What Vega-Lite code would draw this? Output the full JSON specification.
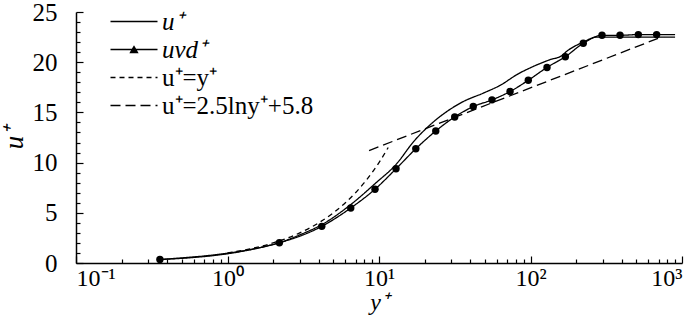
{
  "$schema": "https://vega.github.io/schema/vega-lite/v6.json",
  "width": 606,
  "height": 251,
  "autosize": {"type": "none"},
  "padding": {"left": 76, "top": 12, "right": 18, "bottom": 55},
  "background": "white",
  "config": {
    "view": {"stroke": null},
    "font": "Liberation Serif",
    "axis": {
      "domainColor": "black", "tickColor": "black", "labelColor": "black", "titleColor": "black",
      "grid": false, "domainWidth": 1.5, "tickWidth": 1.2, "titleFontWeight": "normal",
      "labelFont": "Liberation Serif", "titleFont": "Liberation Serif"
    }
  },
  "datasets": {
    "lines": [
      {"series": "u", "x": 0.358, "y": 0.35},
      {"series": "u", "x": 0.565, "y": 0.52},
      {"series": "u", "x": 1.0, "y": 0.92},
      {"series": "u", "x": 1.5, "y": 1.4},
      {"series": "u", "x": 2.2, "y": 2.02},
      {"series": "u", "x": 3.0, "y": 2.8},
      {"series": "u", "x": 4.19, "y": 3.82},
      {"series": "u", "x": 6.51, "y": 5.82},
      {"series": "u", "x": 9.41, "y": 7.9},
      {"series": "u", "x": 13.1, "y": 9.9},
      {"series": "u", "x": 16.9, "y": 12.08},
      {"series": "u", "x": 21.7, "y": 13.75},
      {"series": "u", "x": 28, "y": 15.08},
      {"series": "u", "x": 36, "y": 16.08},
      {"series": "u", "x": 48.8, "y": 16.92},
      {"series": "u", "x": 64, "y": 17.75},
      {"series": "u", "x": 81, "y": 18.75},
      {"series": "u", "x": 104.4, "y": 19.58},
      {"series": "u", "x": 134.5, "y": 20.25},
      {"series": "u", "x": 160.7, "y": 20.65},
      {"series": "u", "x": 173.4, "y": 21.08},
      {"series": "u", "x": 223, "y": 22.0},
      {"series": "u", "x": 273, "y": 22.5},
      {"series": "u", "x": 900, "y": 22.5},
      {"series": "uvd", "x": 0.358, "y": 0.35},
      {"series": "uvd", "x": 2.2, "y": 2.02},
      {"series": "uvd", "x": 4.19, "y": 3.65},
      {"series": "uvd", "x": 6.51, "y": 5.48},
      {"series": "uvd", "x": 9.41, "y": 7.35},
      {"series": "uvd", "x": 12.95, "y": 9.38},
      {"series": "uvd", "x": 17.5, "y": 11.38},
      {"series": "uvd", "x": 23.7, "y": 13.15},
      {"series": "uvd", "x": 31.6, "y": 14.55},
      {"series": "uvd", "x": 41.9, "y": 15.58},
      {"series": "uvd", "x": 55.7, "y": 16.25},
      {"series": "uvd", "x": 73.3, "y": 17.08},
      {"series": "uvd", "x": 96.7, "y": 18.2},
      {"series": "uvd", "x": 128.5, "y": 19.48},
      {"series": "uvd", "x": 169.8, "y": 20.55},
      {"series": "uvd", "x": 223, "y": 21.88},
      {"series": "uvd", "x": 296.5, "y": 22.68},
      {"series": "uvd", "x": 389.8, "y": 22.68},
      {"series": "uvd", "x": 515, "y": 22.75},
      {"series": "uvd", "x": 680, "y": 22.75},
      {"series": "uvd", "x": 900, "y": 22.75},
      {"series": "visc", "x": 1, "y": 1},
      {"series": "visc", "x": 1.5, "y": 1.5},
      {"series": "visc", "x": 2, "y": 2},
      {"series": "visc", "x": 2.5, "y": 2.5},
      {"series": "visc", "x": 3, "y": 3},
      {"series": "visc", "x": 4, "y": 4},
      {"series": "visc", "x": 5, "y": 5},
      {"series": "visc", "x": 6, "y": 6},
      {"series": "visc", "x": 7, "y": 7},
      {"series": "visc", "x": 8, "y": 8},
      {"series": "visc", "x": 9, "y": 9},
      {"series": "visc", "x": 10, "y": 10},
      {"series": "visc", "x": 11.5, "y": 11.5},
      {"series": "log", "x": 8.6, "y": 11.2},
      {"series": "log", "x": 716, "y": 22.45}
    ],
    "points": [
      {"x": 0.358, "y": 0.35},
      {"x": 2.2, "y": 2.02},
      {"x": 4.19, "y": 3.65},
      {"x": 6.51, "y": 5.48},
      {"x": 9.41, "y": 7.35},
      {"x": 12.95, "y": 9.38},
      {"x": 17.5, "y": 11.38},
      {"x": 23.7, "y": 13.15},
      {"x": 31.6, "y": 14.55},
      {"x": 41.9, "y": 15.58},
      {"x": 55.7, "y": 16.25},
      {"x": 73.3, "y": 17.08},
      {"x": 96.7, "y": 18.2},
      {"x": 128.5, "y": 19.48},
      {"x": 169.8, "y": 20.55},
      {"x": 223, "y": 21.88},
      {"x": 296.5, "y": 22.68},
      {"x": 389.8, "y": 22.68},
      {"x": 515, "y": 22.75},
      {"x": 680, "y": 22.75}
    ]
  },
  "resolve": {"axis": {"x": "independent", "y": "independent"}},
  "layer": [
    {
      "data": {"name": "lines"},
      "mark": {"type": "line", "color": "black", "strokeWidth": 1.3, "interpolate": "monotone"},
      "encoding": {
        "x": {
          "field": "x", "type": "quantitative",
          "scale": {"type": "log", "domain": [0.1, 1000]},
          "axis": {
            "orient": "bottom", "values": [0.1, 1, 10, 100, 1000],
            "tickSize": -7, "labelPadding": 10, "labelFontSize": 24,
            "labelExpr": "datum.value < 0.5 ? '10⁻¹' : datum.value < 5 ? '10⁰' : datum.value < 50 ? '10¹' : datum.value < 500 ? '10²' : '10³'",
            "title": "y⁺", "titleFontStyle": "italic", "titleFontSize": 24, "titlePadding": 0
          }
        },
        "y": {
          "field": "y", "type": "quantitative",
          "scale": {"domain": [0, 25], "nice": false},
          "axis": {
            "orient": "left", "values": [0, 5, 10, 15, 20, 25],
            "tickSize": -7, "labelPadding": 26, "labelFontSize": 25,
            "title": "u⁺", "titleFontStyle": "italic", "titleFontSize": 27, "titlePadding": 4
          }
        },
        "strokeDash": {
          "field": "series", "type": "nominal",
          "scale": {"domain": ["u", "uvd", "visc", "log"], "range": [[1, 0], [1, 0], [5, 4], [10, 5]]},
          "legend": {
            "orient": "none", "legendX": 45.5, "legendY": -3, "title": null,
            "labelFont": "Liberation Serif", "labelFontSize": 25, "labelColor": "black", "labelLimit": 0,
            "symbolSize": 400, "symbolStrokeWidth": 1.3, "symbolStrokeColor": "black", "symbolFillColor": "black",
            "labelOffset": 15.5, "rowPadding": 2, "padding": 0,
            "labelExpr": "datum.value == 'u' ? 'u⁺' : datum.value == 'uvd' ? 'uvd⁺' : datum.value == 'visc' ? 'u⁺=y⁺' : 'u⁺=2.5lny⁺+5.8'",
            "encode": {
              "symbols": {"update": {
                "shape": {"signal": "datum.value == 'uvd' ? 'M-2.35,0L2.35,0M-0.35,0.3L0,-0.3L0.35,0.3Z' : 'M-2.35,0L2.35,0'"},
                "fill": {"value": "black"},
                "stroke": {"value": "black"}
              }},
              "labels": {"update": {
                "fontStyle": {"signal": "datum.value == 'u' || datum.value == 'uvd' ? 'italic' : 'normal'"}
              }}
            }
          }
        }
      }
    },
    {
      "data": {"name": "points"},
      "mark": {"type": "circle", "color": "black", "size": 55, "opacity": 1},
      "encoding": {
        "x": {
          "field": "x", "type": "quantitative",
          "scale": {"type": "log", "domain": [0.1, 1000]},
          "axis": {
            "orient": "bottom",
            "values": [0.2, 0.3, 0.4, 0.5, 0.6, 0.7, 0.8, 0.9, 2, 3, 4, 5, 6, 7, 8, 9, 20, 30, 40, 50, 60, 70, 80, 90, 200, 300, 400, 500, 600, 700, 800, 900],
            "tickSize": -4, "labels": false, "domain": false, "title": null
          }
        },
        "y": {
          "field": "y", "type": "quantitative",
          "scale": {"domain": [0, 25], "nice": false},
          "axis": {
            "orient": "left",
            "values": [1, 2, 3, 4, 6, 7, 8, 9, 11, 12, 13, 14, 16, 17, 18, 19, 21, 22, 23, 24],
            "tickSize": -4, "labels": false, "domain": false, "title": null
          }
        }
      }
    }
  ]
}
